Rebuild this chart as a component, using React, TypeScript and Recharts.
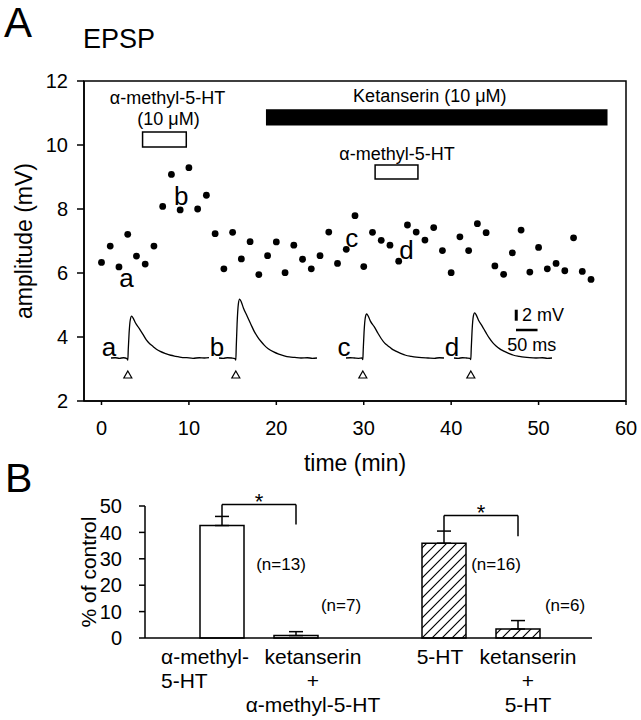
import React from 'react';
import {
  ScatterChart, Scatter, ComposedChart, Bar, ErrorBar, Cell, LineChart, Line,
  XAxis, YAxis, ReferenceArea, ReferenceDot, ReferenceLine,
} from 'recharts';

const FONT = '"Liberation Sans", Arial, Helvetica, sans-serif';

// ---------- Panel A: EPSP amplitude vs time ----------
const timeMin = [0,1,2,3,4,5,6,7,8,9,10,11,12,13,14,15,16,17,18,19,20,21,22,23,24,25,26,27,28,29,30,31,32,33,34,35,36,37,38,39,40,41,42,43,44,45,46,47,48,49,50,51,52,53,54,55,56];
const amplitudeMV = [6.33,6.84,6.19,7.21,6.53,6.28,6.84,8.08,9.08,7.97,9.29,8.0,8.43,7.23,6.13,7.27,6.44,6.98,5.95,6.54,6.97,6.01,6.87,6.43,6.13,6.54,7.28,6.30,6.74,7.79,6.20,7.27,7.02,6.87,6.37,7.50,7.28,7.03,7.42,6.70,6.01,7.13,6.70,7.54,7.26,6.22,5.96,6.63,7.34,6.03,6.80,6.13,6.30,6.07,7.10,6.05,5.80];
const xTicksA = [0, 10, 20, 30, 40, 50, 60];
const yTicksA = [2, 4, 6, 8, 10, 12];

// drug applications (time span in min, vertical span in plot units)
const drugBars = [
  { start: 4.7, end: 9.7, low: 9.94, high: 10.41, filled: false },
  { start: 18.9, end: 57.8, low: 10.63, high: 11.09, filled: true },
  { start: 31.3, end: 36.2, low: 8.94, high: 9.375, filled: false },
];
const drugTexts = [
  { t: 7.56, amp: 11.28, text: 'α-methyl-5-HT' },
  { t: 7.67, amp: 10.625, text: '(10 μM)' },
  { t: 37.56, amp: 11.34, text: 'Ketanserin (10 μM)' },
  { t: 33.8, amp: 9.53, text: 'α-methyl-5-HT' },
];
const pointLetters = [
  { t: 2.86, amp: 5.56, text: 'a' },
  { t: 9.13, amp: 8.125, text: 'b' },
  { t: 28.63, amp: 6.81, text: 'c' },
  { t: 34.9, amp: 6.44, text: 'd' },
];

// ---------- EPSP sample traces (ms, mV) ----------
const traceA = [[0,0],[10,0.05],[20,-0.05],[30,0.05],[38,-0.1],[40,-0.4],[41,1.5],[43,4.5],[46,7.0],[49,7.6],[53,7.2],[58,6.4],[67,5.4],[76,4.3],[84,3.3],[92,2.6],[100,2.1],[108,1.6],[117,1.2],[130,0.8],[142,0.5],[155,0.3],[167,0.12],[180,0.05],[195,-0.05],[210,0.05],[222,0],[233,0.05]];
const traceB = [[0,0],[10,-0.05],[20,0.05],[30,0],[38,-0.1],[40,-0.4],[41,2.0],[43,6.2],[46,9.8],[49,10.7],[53,10.2],[58,9.1],[67,7.6],[76,6.1],[84,4.8],[92,3.8],[100,3.0],[108,2.3],[117,1.7],[130,1.1],[142,0.7],[155,0.4],[167,0.2],[180,0.1],[195,0],[210,0.05],[222,-0.05],[233,0]];
const traceC = [[0,0],[10,0.05],[20,0],[30,-0.05],[38,0],[40,-0.3],[41,1.6],[43,4.8],[46,7.4],[49,8.0],[53,7.6],[58,6.7],[67,5.7],[76,4.5],[84,3.5],[92,2.7],[100,2.2],[108,1.7],[117,1.3],[130,0.85],[142,0.5],[155,0.3],[167,0.15],[180,0.05],[195,0],[210,-0.05],[222,0.05],[233,0]];
const traceD = [[0,0],[10,-0.05],[20,0.05],[30,0],[38,-0.05],[40,-0.3],[41,1.7],[43,5.0],[46,7.6],[49,8.2],[53,7.8],[58,6.9],[67,5.8],[76,4.6],[84,3.6],[92,2.8],[100,2.2],[108,1.7],[117,1.3],[130,0.85],[142,0.5],[155,0.3],[167,0.15],[180,0.05],[195,0],[210,0.05],[222,-0.05],[233,0]];
const traceLabels = ['a', 'b', 'c', 'd'];
const traceLeftPx = [111, 219, 346, 454];

// ---------- Panel B ----------
const bCats = ['amHT', 'ket+amHT', 'gap', '5HT', 'ket+5HT'];
const bPercent = [42.6, 0.9, null, 35.9, 3.4];
const bSem = [3.45, 1.5, null, 4.6, 3.2];
const bHatched = [false, false, false, true, true];
const bTickLines = [['α-methyl-', '5-HT'], ['ketanserin', '+', 'α-methyl-5-HT'], [], ['5-HT'], ['ketanserin', '+', '5-HT']];
const bNLabels = [
  { cat: 'amHT', y: 25.8, text: '(n=13)' },
  { cat: 'ket+amHT', y: 10.2, text: '(n=7)' },
  { cat: '5HT', y: 25.8, text: '(n=16)' },
  { cat: 'ket+5HT', y: 10.2, text: '(n=6)' },
];
const bBrackets = [
  { from: 'amHT', to: 'ket+amHT', top: 50.6, leftLow: 46.05, rightLow: 43.0 },
  { from: '5HT', to: 'ket+5HT', top: 46.4, leftLow: 40.5, rightLow: 38.5 },
];
const yTicksB = [0, 10, 20, 30, 40, 50];

// layout-only offsets
const bNDx = [59, 45, 52, 47];
const bTickLayout = [
  { dx: -61, anchor: 'start' },
  { dx: 17, anchor: 'middle' },
  { dx: 0, anchor: 'middle' },
  { dx: -4, anchor: 'middle' },
  { dx: 10, anchor: 'middle' },
];

const scatterData = timeMin.map((t, i) => ({ t, amp: amplitudeMV[i] }));
const barData = bCats.map((cat, i) => ({
  cat,
  pct: bPercent[i],
  err: bSem[i] == null ? null : [0, bSem[i]],
}));

const Dot = (p: any) => <circle cx={p.cx} cy={p.cy} r={3.4} fill="#000" />;

const textShape = (text: string, size: number, anchor: string = 'middle', dx = 0) => (p: any) => (
  <text x={p.cx + dx} y={p.cy} textAnchor={anchor} fontSize={size} fontFamily={FONT} fill="#000">{text}</text>
);

const Triangle = (p: any) => (
  <path d={`M${p.cx},${p.cy - 3.5} L${p.cx + 4},${p.cy + 3.5} L${p.cx - 4},${p.cy + 3.5} Z`} fill="#fff" stroke="#000" strokeWidth={1.2} />
);

function TraceChart({ data, label, left, withScale }: any) {
  const rows = data.map((d: number[]) => ({ ms: d[0], mv: d[1] }));
  return (
    <div style={{ position: 'absolute', left: left - 20, top: 292 }}>
      <LineChart width={20 + 98 + 28} height={88} data={rows} margin={{ top: 0, right: 28, bottom: 0, left: 20 }}>
        <XAxis dataKey="ms" type="number" domain={[0, 233]} hide />
        <YAxis type="number" domain={[-4, 12]} hide />
        <Line dataKey="mv" type="monotone" dot={false} stroke="#000" strokeWidth={1.3} isAnimationActive={false} />
        <ReferenceDot x={-5} y={0.35} r={0} ifOverflow="visible" shape={textShape(label, 26)} />
        <ReferenceDot x={40} y={-3} r={0} ifOverflow="visible" shape={Triangle} />
        {withScale && (
          <>
            <ReferenceLine segment={[{ x: 148, y: 6.78 }, { x: 148, y: 8.78 }]} stroke="#000" strokeWidth={3} ifOverflow="visible" />
            <ReferenceLine segment={[{ x: 147.4, y: 5.09 }, { x: 198.6, y: 5.09 }]} stroke="#000" strokeWidth={2.5} ifOverflow="visible" />
            <ReferenceDot x={161.7} y={6.7} r={0} ifOverflow="visible" shape={textShape('2 mV', 18, 'start')} />
            <ReferenceDot x={185} y={1.27} r={0} ifOverflow="visible" shape={textShape('50 ms', 18)} />
          </>
        )}
      </LineChart>
    </div>
  );
}

const BTick = (props: any) => {
  const { x, y, index } = props;
  const lines = bTickLines[index] || [];
  const lay = bTickLayout[index];
  return (
    <g>
      {lines.map((ln: string, i: number) => (
        <text key={i} x={x + lay.dx} y={y + 26 + i * 24} textAnchor={lay.anchor} fontSize={21} fontFamily={FONT} fill="#000">{ln}</text>
      ))}
    </g>
  );
};

const starLabel = (p: any) => {
  const vb = p.viewBox;
  return <text x={vb.x + vb.width / 2} y={vb.y + 4.5} textAnchor="middle" fontSize={22} fontFamily={FONT} fill="#000">*</text>;
};

export default function App() {
  const axisStroke = { stroke: '#000', strokeWidth: 1.5 };
  return (
    <div style={{ position: 'absolute', left: 0, top: 0, width: 641, height: 720, background: '#fff', fontFamily: FONT }}>
      <svg width={0} height={0} style={{ position: 'absolute' }}>
        <defs>
          <pattern id="hatch" patternUnits="userSpaceOnUse" width="10" height="10">
            <rect width="10" height="10" fill="#fff" />
            <path d="M-2.5,2.5 L2.5,-2.5 M0,10 L10,0 M7.5,12.5 L12.5,7.5" stroke="#000" strokeWidth="1.2" />
          </pattern>
        </defs>
      </svg>

      {/* Panel A */}
      <div style={{ position: 'absolute', left: 0, top: 0 }}>
        <ScatterChart width={641} height={480} margin={{ top: 81, right: 15, bottom: 49, left: 44 }}>
          <XAxis
            dataKey="t" type="number" domain={[-2, 60]} ticks={xTicksA} allowDataOverflow interval={0}
            tickSize={4} tickMargin={16} axisLine={axisStroke} tickLine={axisStroke}
            tick={{ fill: '#000', fontSize: 20, fontFamily: FONT }} height={30}
            label={{ content: (p: any) => <text x={p.viewBox.x + p.viewBox.width / 2} y={471} textAnchor="middle" fontSize={23} fontFamily={FONT} fill="#000">time (min)</text> }}
          />
          <YAxis
            dataKey="amp" type="number" domain={[2, 12]} ticks={yTicksA} allowDataOverflow width={40} interval={0}
            tickSize={7} tickMargin={9} axisLine={axisStroke} tickLine={axisStroke}
            tick={{ fill: '#000', fontSize: 20, fontFamily: FONT }}
            label={{ content: (p: any) => <text x={32} y={p.viewBox.y + p.viewBox.height / 2} transform={`rotate(-90 32 ${p.viewBox.y + p.viewBox.height / 2})`} textAnchor="middle" fontSize={23} fontFamily={FONT} fill="#000">amplitude (mV)</text> }}
          />
          <ReferenceArea x1={-2} x2={60} y1={2} y2={12} fill="none" fillOpacity={0} stroke="#000" strokeWidth={1.5} ifOverflow="visible" />
          {drugBars.map((b, i) => (
            <ReferenceArea key={i} x1={b.start} x2={b.end} y1={b.low} y2={b.high} fill={b.filled ? '#000' : '#fff'} fillOpacity={1} stroke="#000" strokeWidth={1.5} />
          ))}
          {drugTexts.map((d, i) => (
            <ReferenceDot key={'dt' + i} x={d.t} y={d.amp} r={0} shape={textShape(d.text, 18)} />
          ))}
          {pointLetters.map((d, i) => (
            <ReferenceDot key={'pl' + i} x={d.t} y={d.amp} r={0} shape={textShape(d.text, 26)} />
          ))}
          <Scatter data={scatterData} shape={Dot} isAnimationActive={false} />
        </ScatterChart>
      </div>

      <TraceChart data={traceA} label={traceLabels[0]} left={traceLeftPx[0]} />
      <TraceChart data={traceB} label={traceLabels[1]} left={traceLeftPx[1]} />
      <TraceChart data={traceC} label={traceLabels[2]} left={traceLeftPx[2]} />
      <TraceChart data={traceD} label={traceLabels[3]} left={traceLeftPx[3]} withScale />

      {/* Panel B */}
      <div style={{ position: 'absolute', left: 0, top: 460 }}>
        <ComposedChart width={641} height={260} data={barData} margin={{ top: 46, right: 49, bottom: 0, left: 95 }}>
          <XAxis
            dataKey="cat" type="category" interval={0} padding={{ left: 40, right: 37 }}
            axisLine={axisStroke} tickLine={false} tickSize={0} tickMargin={0} height={82}
            tick={<BTick />}
          />
          <YAxis
            type="number" domain={[0, 50]} ticks={yTicksB} width={50} interval={0}
            tickSize={6} tickMargin={17} axisLine={axisStroke} tickLine={axisStroke}
            tick={{ fill: '#000', fontSize: 20, fontFamily: FONT }}
            label={{ content: (p: any) => <text x={96} y={p.viewBox.y + p.viewBox.height / 2} transform={`rotate(-90 96 ${p.viewBox.y + p.viewBox.height / 2})`} textAnchor="middle" fontSize={21} fontFamily={FONT} fill="#000">% of control</text> }}
          />
          <Bar dataKey="pct" barSize={44} stroke="#000" strokeWidth={1.5} isAnimationActive={false}>
            {barData.map((d, i) => (
              <Cell key={i} fill={bHatched[i] ? 'url(#hatch)' : '#fff'} />
            ))}
            <ErrorBar dataKey="err" direction="y" width={7} stroke="#000" strokeWidth={1.5} />
          </Bar>
          {bBrackets.map((br, i) => (
            <React.Fragment key={'br' + i}>
              <ReferenceLine segment={[{ x: br.from, y: br.leftLow }, { x: br.from, y: br.top }]} stroke="#000" strokeWidth={1.5} ifOverflow="visible" />
              <ReferenceLine segment={[{ x: br.from, y: br.top }, { x: br.to, y: br.top }]} stroke="#000" strokeWidth={1.5} ifOverflow="visible" label={{ content: starLabel }} />
              <ReferenceLine segment={[{ x: br.to, y: br.top }, { x: br.to, y: br.rightLow }]} stroke="#000" strokeWidth={1.5} ifOverflow="visible" />
            </React.Fragment>
          ))}
          {bNLabels.map((n, i) => (
            <ReferenceDot key={'n' + i} x={n.cat} y={n.y} r={0} ifOverflow="visible" shape={textShape(n.text, 17, 'middle', bNDx[i])} />
          ))}
        </ComposedChart>
      </div>

      <svg width={641} height={720} style={{ position: 'absolute', left: 0, top: 0, pointerEvents: 'none' }}>
        <text x={4} y={37} fontSize={42} fontFamily={FONT} fill="#000">A</text>
        <text x={83} y={48} fontSize={27} fontFamily={FONT} fill="#000">EPSP</text>
        <text x={5} y={492} fontSize={41} fontFamily={FONT} fill="#000">B</text>
      </svg>
    </div>
  );
}
